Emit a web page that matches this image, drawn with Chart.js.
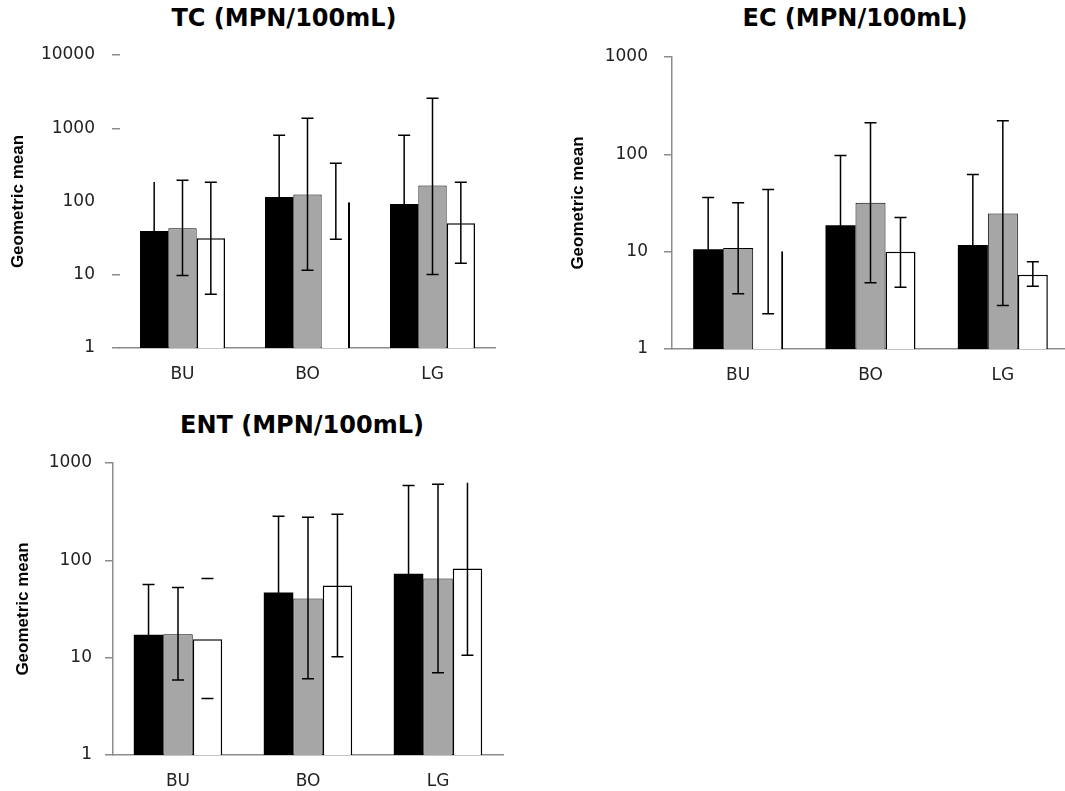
<!DOCTYPE html>
<html><head><meta charset="utf-8">
<script src="https://cdn.jsdelivr.net/npm/chart.js@4.4.0/dist/chart.umd.min.js"></script>
<style>
html,body{margin:0;padding:0;width:1065px;height:791px;overflow:hidden;background:#fff;position:relative}
canvas{position:absolute}
.ttl{position:absolute;font-family:'DejaVu Sans',sans-serif;font-weight:bold;font-size:24px;color:#000;white-space:nowrap;transform:translate(-50%,-50%);line-height:1}
</style></head><body>
<div class="ttl" style="left:284px;top:18px">TC (MPN/100mL)</div>
<div class="ttl" style="left:855px;top:18px">EC (MPN/100mL)</div>
<div class="ttl" style="left:302px;top:425px">ENT (MPN/100mL)</div>
<canvas id="c1" width="540" height="390" style="left:0;top:0"></canvas>
<canvas id="c2" width="535" height="391" style="left:540px;top:0"></canvas>
<canvas id="c3" width="540" height="391" style="left:0;top:400px"></canvas>
<script>
// ---- data ----
const categories = ['BU', 'BO', 'LG'];
const yAxisTitle = 'Geometric mean';

const tcTicks = [1, 10, 100, 1000, 10000];
const tcBlack = [39.5, 115, 92.4];
const tcBlackHigh = [185, 801, 801];
const tcBlackLow = [8.5, 16.5, 10.6];
const tcGray = [43, 125, 166];
const tcGrayHigh = [195, 1365, 2563];
const tcGrayLow = [9.8, 11.5, 10.1];
const tcWhite = [31.4, 98, 50.4];
const tcWhiteHigh = [183, 332, 183];
const tcWhiteLow = [5.4, 30.5, 14.3];

const ecTicks = [1, 10, 100, 1000];
const ecBlack = [10.6, 18.7, 11.7];
const ecBlackHigh = [36, 97, 62];
const ecBlackLow = [3.1, 3.6, 2.2];
const ecGray = [10.9, 31.9, 24.6];
const ecGrayHigh = [31.9, 211, 221];
const ecGrayLow = [3.7, 4.8, 2.8];
const ecWhite = [10.1, 10.0, 5.8];
const ecWhiteHigh = [43.5, 22.4, 7.9];
const ecWhiteLow = [2.3, 4.3, 4.4];

const entTicks = [1, 10, 100, 1000];
const entBlack = [17.2, 46.8, 73];
const entBlackHigh = [56.5, 283, 587];
const entBlackLow = [5.2, 7.7, 9.1];
const entGray = [17.4, 40.6, 65];
const entGrayHigh = [52.6, 277, 606];
const entGrayLow = [5.9, 6.06, 6.98];
const entWhite = [15.5, 55, 82.3];
const entWhiteHigh = [65, 297, 625];
const entWhiteLow = [3.8, 10.2, 10.6];

// ---- rendering ----
const AXIS = '#8c8c8c';
const errorBarPlugin = {
  id: 'errbars',
  afterDatasetsDraw(chart) {
    const ctx = chart.ctx, ys = chart.scales.y;
    const q = chart.options.plugins.errbars || {};
    chart.data.datasets.forEach((ds, di) => {
      const meta = chart.getDatasetMeta(di);
      meta.data.forEach((bar, i) => {
        const key = di + '-' + i;
        const x = bar.x;
        const yh = ys.getPixelForValue(ds.high[i]);
        const yl = ys.getPixelForValue(ds.low[i]);
        ctx.save();
        ctx.strokeStyle = '#000';
        ctx.lineWidth = 1.5;
        ctx.beginPath();
        if (!(q.noStem || []).includes(key)) { ctx.moveTo(x, yh); ctx.lineTo(x, yl); }
        const cw = 6;
        if (!(q.noTopCap || []).includes(key)) { ctx.moveTo(x - cw, yh); ctx.lineTo(x + cw, yh); }
        ctx.moveTo(x - cw, yl); ctx.lineTo(x + cw, yl);
        ctx.stroke();
        ctx.restore();
      });
    });
  }
};

function makeChart(id, g) {
  const mk = (label, vals, hi, lo, color, idx) => ({
    label, data: vals, high: hi, low: lo,
    backgroundColor: color,
    borderColor: '#000',
    borderSkipped: 'bottom',
    borderWidth: (c) => {
      if (idx === 0) return 0;
      if (idx === 2 && (g.rightOnly || []).includes(c.dataIndex)) return {left: 0, top: 0, right: 2, bottom: 0};
      return idx === 1 ? 1 : 1.5;
    }
  });
  new Chart(document.getElementById(id), {
    type: 'bar',
    data: {
      labels: categories,
      datasets: [
        mk('black', g.s[0], g.s[1], g.s[2], '#000000', 0),
        mk('gray', g.s[3], g.s[4], g.s[5], '#a6a6a6', 1),
        mk('white', g.s[6], g.s[7], g.s[8], '#ffffff', 2)
      ]
    },
    options: {
      responsive: false,
      animation: false,
      events: [],
      layout: { padding: { top: g.aT - g.T, right: (g.L + g.W) - g.aR, left: 0, bottom: 0 } },
      datasets: { bar: { categoryPercentage: 0.68, barPercentage: 1 } },
      plugins: {
        legend: { display: false }, tooltip: { enabled: false }, title: { display: false },
        errbars: { noStem: g.noStem, noTopCap: g.noTopCap }
      },
      scales: {
        x: {
          type: 'category', offset: true,
          grid: { display: false, drawTicks: false },
          border: { display: true, color: AXIS, width: 1.5 },
          ticks: { font: { family: 'DejaVu Sans', size: 17 }, color: '#222', padding: 16 },
          afterFit: (s) => { s.height = (g.T + g.H) - g.aB; }
        },
        y: {
          type: 'logarithmic', min: g.ticks[0], max: g.ticks[g.ticks.length - 1],
          afterBuildTicks: (s) => { s.ticks = g.ticks.map(v => ({ value: v })); },
          afterFit: (s) => { s.width = g.aL - g.L; },
          ticks: { callback: (v) => String(v), font: { family: 'DejaVu Sans', size: 17 }, color: '#222', padding: g.tickPad, autoSkip: false },
          grid: { drawOnChartArea: false, drawTicks: true, tickLength: 8, lineWidth: 1.5,
            color: (c) => (c.tick && (g.hideTicks || []).includes(c.tick.value)) ? 'rgba(0,0,0,0)' : AXIS },
          border: { display: g.yBorder, color: AXIS, width: 1.5 },
          title: { display: true, text: yAxisTitle, color: '#000',
            font: { family: "'Liberation Sans Narrow','Liberation Sans',sans-serif", size: 17, weight: 'bold' },
            padding: { top: g.titlePad, bottom: 0 } }
        }
      }
    },
    plugins: [errorBarPlugin]
  });
}

makeChart('c1', {
  L: 0, T: 0, W: 540, H: 390, aL: 120, aT: 55, aR: 495, aB: 348,
  ticks: tcTicks, tickPad: 17, titlePad: 8, yBorder: false, hideTicks: [100],
  s: [tcBlack, tcBlackHigh, tcBlackLow, tcGray, tcGrayHigh, tcGrayLow, tcWhite, tcWhiteHigh, tcWhiteLow],
  rightOnly: [1], noTopCap: ['0-0'], noStem: []
});
makeChart('c2', {
  L: 540, T: 0, W: 535, H: 391, aL: 672, aT: 57, aR: 1069, aB: 349,
  ticks: ecTicks, tickPad: 16, titlePad: 28, yBorder: true,
  s: [ecBlack, ecBlackHigh, ecBlackLow, ecGray, ecGrayHigh, ecGrayLow, ecWhite, ecWhiteHigh, ecWhiteLow],
  rightOnly: [0], noTopCap: [], noStem: []
});
makeChart('c3', {
  L: 0, T: 400, W: 540, H: 391, aL: 113, aT: 463, aR: 503, aB: 755,
  ticks: entTicks, tickPad: 13, titlePad: 13, yBorder: true,
  s: [entBlack, entBlackHigh, entBlackLow, entGray, entGrayHigh, entGrayLow, entWhite, entWhiteHigh, entWhiteLow],
  rightOnly: [], noTopCap: ['2-2'], noStem: ['2-0']
});
</script>
</body></html>
